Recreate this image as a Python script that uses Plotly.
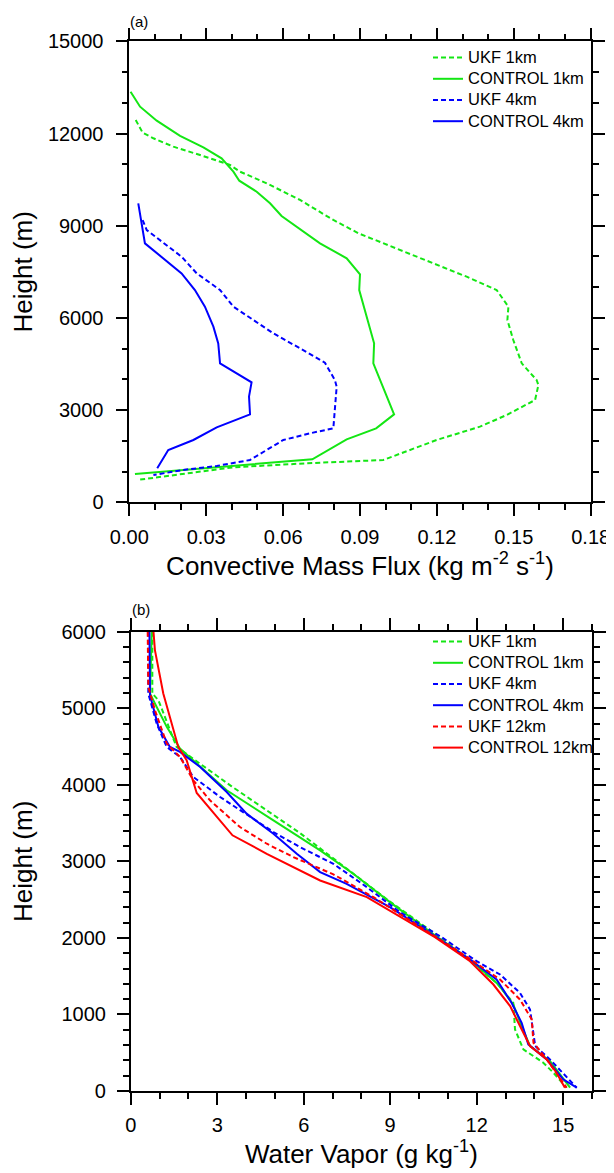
import plotly.graph_objects as go

# ---------------- Panel (a): Convective mass flux ----------------
ukf1_a_x = [0.0025, 0.0052, 0.0094, 0.0172, 0.0276, 0.0393, 0.0432, 0.0536, 0.0666, 0.0796, 0.0894,
            0.0991, 0.1186, 0.1316, 0.1433, 0.1479, 0.1475, 0.1498, 0.1531, 0.1589, 0.1596, 0.1583,
            0.1472, 0.1368, 0.1199, 0.1095, 0.0991, 0.0692, 0.0406, 0.0031]
ukf1_a_h = [12440, 12027, 11844, 11571, 11301, 10976, 10758, 10380, 9837, 9186, 8753,
            8425, 7774, 7341, 6907, 6365, 5931, 5281, 4521, 3979, 3817, 3329,
            2841, 2461, 2028, 1702, 1377, 1269, 1139, 726]

ctl1_a_x = [0.0005, 0.0042, 0.0107, 0.0198, 0.0289, 0.0360, 0.0406, 0.0429, 0.0497, 0.0549, 0.0594,
            0.0666, 0.0744, 0.0848, 0.0900, 0.0897, 0.0926, 0.0955, 0.0952, 0.1004, 0.1033, 0.0963,
            0.0848, 0.0714, 0.0022]
ctl1_a_h = [13361, 12873, 12417, 11920, 11552, 11194, 10758, 10465, 10107, 9729, 9316,
            8883, 8428, 7940, 7417, 6907, 6040, 5172, 4521, 3437, 2863, 2407,
            2049, 1399, 922]

ukf4_a_x = [0.0052, 0.0068, 0.0204, 0.0263, 0.0354, 0.0406, 0.0484, 0.0562, 0.0666, 0.0763, 0.0802,
            0.0809, 0.0796, 0.0705, 0.0601, 0.0523, 0.0471, 0.0341, 0.0210, 0.0094]
ukf4_a_h = [9184, 8859, 7991, 7449, 6907, 6365, 5931, 5497, 5009, 4543, 3979,
            3762, 2407, 2244, 2028, 1648, 1377, 1182, 1052, 889]

ctl4_a_x = [0.0035, 0.0061, 0.0204, 0.0256, 0.0295, 0.0328, 0.0347, 0.0354, 0.0477, 0.0467, 0.0471,
            0.0341, 0.0250, 0.0152, 0.0109]
ctl4_a_h = [9726, 8425, 7449, 6907, 6365, 5714, 5172, 4521, 3903, 3437, 2863,
            2440, 2028, 1702, 1106]

# ---------------- Panel (b): Water vapor ----------------
ukf1_b_x = [0.75, 0.75, 0.96, 1.59, 3.50, 5.87, 8.90, 10.61, 11.65, 12.69, 13.27, 13.33,
            13.62, 14.31, 14.66, 15.12]
ukf1_b_h = [6000, 5193, 5106, 4495, 3980, 3370, 2500, 2040, 1739, 1413, 1152, 804,
            543, 370, 239, 43]

ctl1_b_x = [0.73, 0.67, 0.84, 1.25, 1.71, 3.33, 4.95, 6.57, 7.72, 8.99, 10.67, 11.77, 12.75,
            13.27, 13.56, 13.85, 14.54, 15.24]
ctl1_b_h = [6000, 5193, 5062, 4757, 4473, 3928, 3536, 3143, 2838, 2467, 2000, 1717, 1391,
            1130, 848, 587, 391, 43]

ukf4_b_x = [0.61, 0.61, 0.90, 1.25, 1.71, 2.17, 3.10, 4.14, 4.95, 5.87, 7.03, 8.19, 9.34,
            10.78, 12.00, 12.81, 13.50, 13.85, 13.97, 14.03, 14.54, 15.12, 15.47]
ukf4_b_h = [6000, 5193, 4800, 4495, 4364, 4103, 3841, 3579, 3383, 3186, 2968, 2663, 2336,
            2010, 1696, 1522, 1283, 1065, 761, 587, 413, 174, 43]

ctl4_b_x = [0.65, 0.67, 0.96, 1.36, 1.71, 2.41, 3.33, 4.02, 4.95, 5.76, 6.57, 7.49, 8.99,
            10.55, 11.77, 12.69, 13.21, 13.56, 13.79, 14.43, 15.00, 15.47]
ctl4_b_h = [6000, 5171, 4757, 4495, 4430, 4233, 3906, 3623, 3361, 3099, 2859, 2707, 2401,
            2025, 1717, 1457, 1152, 891, 609, 413, 152, 43]

ukf12_b_x = [0.59, 0.61, 0.84, 1.25, 1.71, 2.17, 2.75, 3.79, 4.72, 5.64, 7.03, 8.42, 10.55,
             11.88, 12.81, 13.50, 13.91, 13.97, 14.43, 14.89, 15.12]
ukf12_b_h = [6000, 5280, 4975, 4539, 4364, 4059, 3797, 3448, 3230, 3056, 2830, 2532, 2020,
             1696, 1457, 1196, 935, 630, 413, 174, 43]

ctl12_b_x = [0.79, 0.84, 1.13, 1.65, 1.94, 2.29, 3.53, 4.72, 6.57, 8.19, 10.55, 11.77, 12.58,
             13.16, 13.39, 13.68, 13.85, 14.43, 14.77, 15.06]
ctl12_b_h = [6000, 5760, 5193, 4495, 4321, 3893, 3340, 3099, 2750, 2532, 2010, 1696, 1391,
             1109, 935, 717, 587, 413, 239, 43]

x_a_ticks = [0.00, 0.03, 0.06, 0.09, 0.12, 0.15, 0.18]
x_a_labels = ["0.00", "0.03", "0.06", "0.09", "0.12", "0.15", "0.18"]
y_a_ticks = [0, 3000, 6000, 9000, 12000, 15000]
y_a_labels = ["0", "3000", "6000", "9000", "12000", "15000"]
x_b_ticks = [0, 3, 6, 9, 12, 15]
x_b_labels = ["0", "3", "6", "9", "12", "15"]
y_b_ticks = [0, 1000, 2000, 3000, 4000, 5000, 6000]
y_b_labels = ["0", "1000", "2000", "3000", "4000", "5000", "6000"]

GREEN = "#14E614"
BLUE = "#0000FF"
RED = "#FF0000"
DASH = "5px,3px"
FONT = "Liberation Sans, Arial, sans-serif"


def lname(s):
    return '<span style="font-size:16.5px">' + s + '</span>'


fig = go.Figure()

series_a = [
    ("UKF 1km", ukf1_a_x, ukf1_a_h, GREEN, DASH),
    ("CONTROL 1km", ctl1_a_x, ctl1_a_h, GREEN, "solid"),
    ("UKF 4km", ukf4_a_x, ukf4_a_h, BLUE, DASH),
    ("CONTROL 4km", ctl4_a_x, ctl4_a_h, BLUE, "solid"),
]
for name, xs, hs, col, dash in series_a:
    fig.add_trace(go.Scatter(x=xs, y=hs, mode="lines", name=lname(name),
                             line=dict(color=col, width=2, dash=dash),
                             xaxis="x", yaxis="y", legend="legend"))

series_b = [
    ("UKF 1km", ukf1_b_x, ukf1_b_h, GREEN, DASH),
    ("CONTROL 1km", ctl1_b_x, ctl1_b_h, GREEN, "solid"),
    ("UKF 4km", ukf4_b_x, ukf4_b_h, BLUE, DASH),
    ("CONTROL 4km", ctl4_b_x, ctl4_b_h, BLUE, "solid"),
    ("UKF 12km", ukf12_b_x, ukf12_b_h, RED, DASH),
    ("CONTROL 12km", ctl12_b_x, ctl12_b_h, RED, "solid"),
]
for name, xs, hs, col, dash in series_b:
    fig.add_trace(go.Scatter(x=xs, y=hs, mode="lines", name=lname(name),
                             line=dict(color=col, width=2, dash=dash),
                             xaxis="x2", yaxis="y2", legend="legend2"))

# The page body adds an 8px margin; the figure is sized to fit the 614x1173 window.
OFF = 8
W, H = 614 - OFF, 1173 - OFF


def px2x(p):
    return (p - OFF) / W


def px2y(p):
    return 1 - (p - OFF) / H


axis_common = dict(
    showline=True, linecolor="black", linewidth=1.6, mirror="allticks",
    ticks="outside", ticklen=12, tickwidth=1.6, tickcolor="black",
    showgrid=False, zeroline=False, automargin=False,
    tickfont=dict(family=FONT, size=20, color="black"),
)
minor_common = dict(ticks="outside", ticklen=6, tickwidth=1.6, tickcolor="black")
title_font = dict(family=FONT, size=26, color="black")

fig.update_layout(
    width=W, height=H,
    margin=dict(l=0, r=0, t=0, b=0, autoexpand=False),
    paper_bgcolor="white", plot_bgcolor="white",
    font=dict(family=FONT, color="black"),
    xaxis=dict(domain=[px2x(129.3), px2x(590.7)], anchor="y", range=[0, 0.18],
               tickvals=x_a_ticks, ticktext=x_a_labels,
               minor=dict(dtick=0.01, **minor_common),
               title=dict(text="Convective Mass Flux (kg m<sup>-2</sup> s<sup>-1</sup>)",
                          font=title_font, standoff=9),
               ticklabelstandoff=4,
               **axis_common),
    yaxis=dict(domain=[px2y(502.3), px2y(41.3)], anchor="x", range=[0, 15000],
               tickvals=y_a_ticks, ticktext=y_a_labels,
               minor=dict(dtick=1000, **minor_common),
               title=dict(text="Height (m)", font=title_font, standoff=14),
               ticklabelstandoff=8,
               **axis_common),
    xaxis2=dict(domain=[px2x(130.7), px2x(592)], anchor="y2", range=[0, 16],
                tickvals=x_b_ticks, ticktext=x_b_labels,
                minor=dict(dtick=1, **minor_common),
                title=dict(text="Water Vapor (g kg<sup>-1</sup>)",
                           font=title_font, standoff=10),
                ticklabelstandoff=3,
                **axis_common),
    yaxis2=dict(domain=[px2y(1091), px2y(631.7)], anchor="x2", range=[0, 6000],
                tickvals=y_b_ticks, ticktext=y_b_labels,
                minor=dict(dtick=200, **minor_common),
                title=dict(text="Height (m)", font=title_font, standoff=26),
                ticklabelstandoff=7,
                **axis_common),
    legend=dict(x=px2x(428), y=px2y(42), xanchor="left", yanchor="top",
                bgcolor="rgba(0,0,0,0)", borderwidth=0,
                font=dict(family=FONT, size=14, color="black"), itemwidth=30),
    legend2=dict(x=px2x(428), y=px2y(626), xanchor="left", yanchor="top",
                 bgcolor="rgba(0,0,0,0)", borderwidth=0,
                 font=dict(family=FONT, size=14, color="black"), itemwidth=30),
    annotations=[
        dict(text="(a)", x=px2x(128), y=px2y(21), xref="paper", yref="paper",
             xanchor="left", yanchor="middle", showarrow=False,
             font=dict(family=FONT, size=15, color="black")),
        dict(text="(b)", x=px2x(130), y=px2y(609), xref="paper", yref="paper",
             xanchor="left", yanchor="middle", showarrow=False,
             font=dict(family=FONT, size=15, color="black")),
    ],
)

fig.write_html("out.html")
